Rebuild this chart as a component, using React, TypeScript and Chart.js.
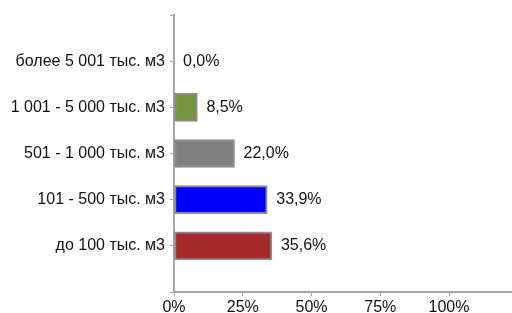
import React, { useEffect, useRef } from "react";
import { Chart, registerables } from "chart.js";

Chart.register(...registerables);

const categories = [
  "более 5 001 тыс. м3",
  "1 001 - 5 000 тыс. м3",
  "501 - 1 000 тыс. м3",
  "101 - 500 тыс. м3",
  "до 100 тыс. м3",
];
const values = [0.0, 8.5, 22.0, 33.9, 35.6];
const barColors = ["#77933C", "#77933C", "#808080", "#0000FF", "#A52A2A"];
const xTickValues = [0, 25, 50, 75, 100];

const FONT = "'Liberation Sans', Arial, sans-serif";

const labelPlugin = {
  id: "barValueLabels",
  afterDatasetsDraw(chart: any) {
    const ctx = chart.ctx;
    const meta = chart.getDatasetMeta(0);
    const data = chart.data.datasets[0].data;
    ctx.save();
    ctx.font = `16px ${FONT}`;
    ctx.fillStyle = "#111";
    ctx.textBaseline = "middle";
    ctx.textAlign = "left";
    meta.data.forEach((el: any, i: number) => {
      const v = data[i];
      if (v === null || v === undefined) return;
      const txt = Number(v).toFixed(1).replace(".", ",") + "%";
      ctx.fillText(txt, el.x + 9, el.y);
    });
    ctx.restore();
  },
};

export default function App() {
  const ref = useRef<HTMLCanvasElement | null>(null);

  useEffect(() => {
    document.body.style.margin = "0";
    const labels = ["", ...categories, ""];
    const data = [null, ...values, null];
    const colors = ["#fff", ...barColors, "#fff"];
    const chart = new Chart(ref.current as HTMLCanvasElement, {
      type: "bar",
      data: {
        labels,
        datasets: [
          {
            data: data as any,
            backgroundColor: colors,
            borderColor: "#8c8c8c",
            borderWidth: 2,
            borderSkipped: false,
            barThickness: 28,
          },
        ],
      },
      options: {
        indexAxis: "y",
        animation: false,
        responsive: false,
        maintainAspectRatio: false,
        layout: { padding: { top: 15, right: 0, left: 0, bottom: 0 } },
        plugins: {
          legend: { display: false },
          tooltip: { enabled: false },
        },
        scales: {
          x: {
            type: "linear",
            min: 0,
            max: 122.9,
            afterBuildTicks: (axis: any) => {
              axis.ticks = xTickValues.map((v) => ({ value: v }));
            },
            afterFit: (axis: any) => {
              axis.height = 21;
            },
            ticks: {
              callback: (v: any) => `${v}%`,
              color: "#111",
              font: { family: FONT, size: 16 },
              padding: 2,
              maxRotation: 0,
              autoSkip: false,
            },
            grid: {
              drawOnChartArea: false,
              drawTicks: true,
              tickLength: 4,
              color: "#a6a6a6",
              lineWidth: 1,
            },
            border: { display: true, color: "#a6a6a6", width: 2 },
          },
          y: {
            type: "category",
            offset: false,
            afterFit: (axis: any) => {
              axis.width = 174;
            },
            ticks: {
              color: "#111",
              font: { family: FONT, size: 16 },
              padding: 5,
              autoSkip: false,
            },
            grid: {
              offset: false,
              drawOnChartArea: false,
              drawTicks: true,
              tickLength: 4,
              color: "#a6a6a6",
              lineWidth: 1,
            },
            border: { display: true, color: "#a6a6a6", width: 2 },
          },
        },
      },
      plugins: [labelPlugin],
    });
    return () => chart.destroy();
  }, []);

  return (
    <div style={{ width: 512, height: 313 }}>
      <canvas ref={ref} width={512} height={313} style={{ display: "block" }} />
    </div>
  );
}
